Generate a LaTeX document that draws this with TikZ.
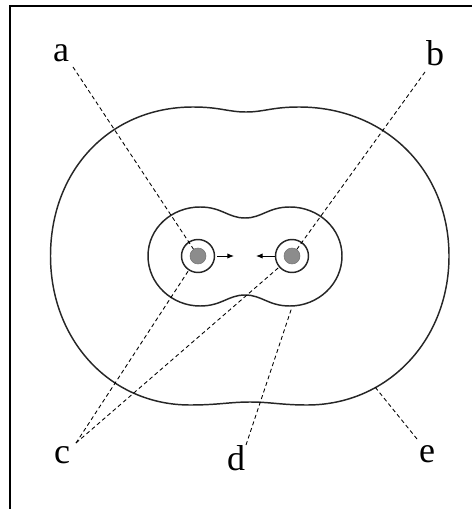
\documentclass[tikz,border=0pt]{standalone}
\usepackage{fontspec}
\setmainfont{Liberation Serif}
\usetikzlibrary{arrows.meta}
\begin{document}
\begin{tikzpicture}[x=0.75pt,y=-0.75pt,
  contour/.style={line width=1.1pt,draw=black!85},
  leader/.style={line width=0.65pt,dash pattern=on 3pt off 2.2pt},
  lbl/.style={font=\fontsize{27}{31}\selectfont,anchor=base,inner sep=0pt},
  ring/.style={circle,draw=black!85,line width=1.1pt,minimum size=24.75pt,inner sep=0pt},
  core/.style={circle,fill=black!45,draw=black!55,line width=0.4pt,minimum size=12pt,inner sep=0pt},
  push/.style={line width=0.75pt,-{Latex[length=5pt,width=4pt]}}]
\useasboundingbox (0,0) rectangle (472,509);
% frame (top and left edges)
\draw[line width=1.5pt] (9.5,509) -- (9.5,6) -- (472,6);
% outer contour
\draw[contour] (50.5,256) .. controls (50.5,170) and (110,107) .. (193,107)
  .. controls (220,107) and (228,112) .. (246,112)
  .. controls (264,112) and (272,107) .. (299,107)
  .. controls (385,107) and (449,170) .. (449,256)
  .. controls (449,340) and (388,405) .. (307,405)
  .. controls (282,405) and (270,402) .. (250,402)
  .. controls (230,402) and (218,405) .. (190,405)
  .. controls (110,405) and (50.5,340) .. cycle;
% inner contour
\draw[contour] (148,256) .. controls (148,228) and (172,207) .. (200,207)
  .. controls (222,207) and (228,218) .. (245,218)
  .. controls (262,218) and (268,207) .. (290,207)
  .. controls (318,207) and (342,228) .. (342,256)
  .. controls (342,284) and (318,306) .. (290,306)
  .. controls (268,306) and (262,295) .. (245,295)
  .. controls (228,295) and (222,306) .. (200,306)
  .. controls (172,306) and (148,284) .. cycle;
% particles
\node[ring] (L) at (198,256) {};
\node[ring] (R) at (292,256) {};
\node[core] (Lc) at (198,256) {};
\node[core] (Rc) at (292,256) {};
% arrows
\coordinate (la0) at (217,256); \coordinate (la1) at (234,256);
\coordinate (ra0) at (275,256); \coordinate (ra1) at (256,256);
\draw[push] (la0) -- (la1);
\draw[push] (ra0) -- (ra1);
% labels
\node[lbl] (a) at (61,62) {a};
\node[lbl] (b) at (435,66) {b};
\node[lbl] (c) at (62,463) {c};
\node[lbl] (d) at (236,470) {d};
\node[lbl] (e) at (427,462) {e};
% leader start/end points
\coordinate (a0) at (73,67);
\coordinate (b0) at (425,72);
\coordinate (c0) at (76,443);
\coordinate (d0) at (246,445);
\coordinate (d1) at (292,307);
\coordinate (e0) at (417,439);
\coordinate (e1) at (375,387);
\draw[leader] (a0) -- (Lc);
\draw[leader] (b0) -- (Rc);
\draw[leader] (c0) -- (L);
\draw[leader] (c0) -- (R);
\draw[leader] (d0) -- (d1);
\draw[leader] (e0) -- (e1);
\end{tikzpicture}
\end{document}
